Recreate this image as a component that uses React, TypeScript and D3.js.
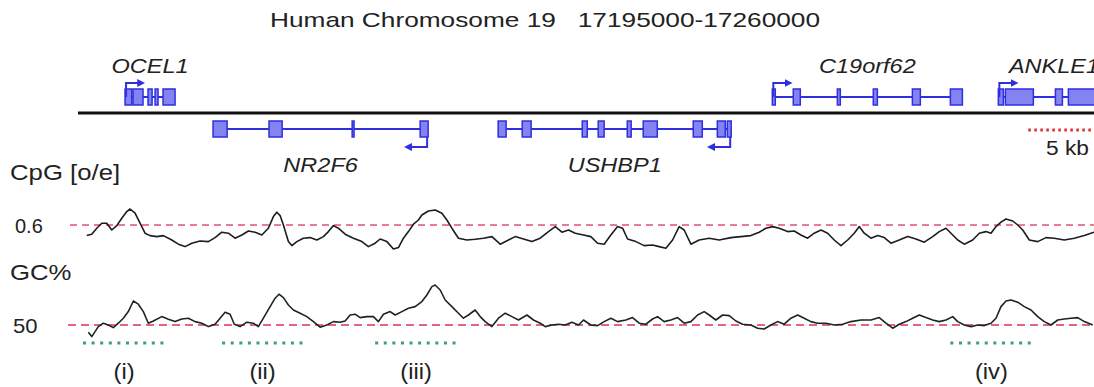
import * as d3 from 'd3';

// genomic window, positions below are kb from the window start
const chromStart = 17195000;
const chromEnd = 17260000;
const titleText = 'Human Chromosome 19   17195000-17260000';

// CpG observed/expected profile [kb, o/e]
const cpgProfile: [number, number][] = [
  [0.56, 0.547], [0.88, 0.554], [1.2, 0.584], [1.52, 0.609], [1.84, 0.609], [2.16, 0.575],
  [2.48, 0.597], [2.8, 0.634], [3.12, 0.667], [3.33, 0.68], [3.65, 0.659], [3.97, 0.609],
  [4.29, 0.559], [4.61, 0.547], [5.04, 0.542], [5.46, 0.547], [6.0, 0.525], [6.42, 0.504],
  [6.85, 0.492], [7.28, 0.509], [7.81, 0.52], [8.34, 0.517], [8.77, 0.537], [9.2, 0.564],
  [9.62, 0.559], [10.05, 0.534], [10.48, 0.55], [10.9, 0.57], [11.33, 0.564], [11.76, 0.55],
  [12.18, 0.584], [12.5, 0.642], [12.72, 0.664], [12.93, 0.647], [13.14, 0.6], [13.46, 0.517],
  [13.68, 0.497], [14.0, 0.517], [14.42, 0.534], [14.85, 0.537], [15.28, 0.525], [15.7, 0.542],
  [16.02, 0.567], [16.34, 0.597], [16.66, 0.584], [17.09, 0.554], [17.62, 0.534], [18.16, 0.517],
  [18.58, 0.492], [19.01, 0.509], [19.33, 0.53], [19.76, 0.517], [20.18, 0.48], [20.5, 0.487],
  [20.82, 0.534], [21.14, 0.567], [21.46, 0.604], [21.78, 0.625], [22.0, 0.65], [22.42, 0.67],
  [22.85, 0.675], [23.28, 0.659], [23.6, 0.625], [23.92, 0.584], [24.34, 0.534], [24.88, 0.525],
  [25.41, 0.529], [25.94, 0.534], [26.48, 0.542], [27.01, 0.504], [27.54, 0.525], [27.97, 0.542],
  [28.5, 0.53], [29.04, 0.517], [29.57, 0.534], [30.1, 0.567], [30.53, 0.592], [30.96, 0.564],
  [31.38, 0.575], [31.81, 0.559], [32.34, 0.55], [32.81, 0.542], [33.24, 0.509], [33.66, 0.504],
  [34.09, 0.55], [34.52, 0.592], [34.84, 0.584], [35.16, 0.53], [35.69, 0.517], [36.22, 0.497],
  [36.76, 0.5], [37.18, 0.492], [37.61, 0.484], [38.04, 0.525], [38.46, 0.592], [38.78, 0.575],
  [39.21, 0.504], [39.74, 0.525], [40.38, 0.534], [41.02, 0.525], [41.77, 0.537], [42.41, 0.542],
  [43.05, 0.547], [43.58, 0.564], [44.01, 0.584], [44.44, 0.592], [44.86, 0.584], [45.4, 0.567],
  [45.82, 0.57], [46.25, 0.55], [46.68, 0.534], [47.1, 0.559], [47.53, 0.575], [47.96, 0.559],
  [48.38, 0.525], [48.81, 0.497], [49.24, 0.525], [49.66, 0.559], [49.98, 0.592], [50.3, 0.559],
  [50.73, 0.534], [51.16, 0.547], [51.58, 0.537], [52.01, 0.509], [52.54, 0.525], [53.08, 0.542],
  [53.61, 0.53], [54.14, 0.514], [54.68, 0.542], [55.1, 0.567], [55.53, 0.584], [55.85, 0.559],
  [56.28, 0.525], [56.7, 0.504], [57.24, 0.525], [57.66, 0.559], [58.09, 0.567], [58.41, 0.559],
  [58.73, 0.592], [59.05, 0.614], [59.37, 0.63], [59.8, 0.62], [60.12, 0.6], [60.44, 0.575],
  [60.86, 0.525], [61.4, 0.517], [61.93, 0.537], [62.46, 0.534], [63.1, 0.525], [63.74, 0.534],
  [64.38, 0.547], [65.0, 0.564],
];

// GC content profile [kb, %]
const gcProfile: [number, number][] = [
  [0.66, 46.4], [0.88, 44.2], [1.09, 46.7], [1.3, 49.2], [1.62, 50.9], [1.94, 50.0],
  [2.26, 48.7], [2.58, 50.9], [2.9, 53.4], [3.22, 56.7], [3.54, 62.0], [3.86, 60.4],
  [4.18, 56.7], [4.5, 50.9], [4.82, 52.0], [5.36, 54.2], [5.78, 52.9], [6.21, 51.7],
  [6.64, 53.0], [7.06, 53.4], [7.49, 51.7], [7.92, 50.9], [8.34, 49.2], [8.77, 50.4],
  [9.09, 53.4], [9.41, 56.4], [9.73, 55.4], [10.0, 50.4], [10.37, 49.2], [10.8, 51.4],
  [11.22, 50.9], [11.54, 49.2], [11.86, 53.4], [12.29, 59.2], [12.61, 63.4], [12.86, 65.4],
  [13.14, 63.7], [13.46, 60.0], [13.78, 57.5], [14.21, 55.9], [14.64, 54.2], [15.06, 51.7],
  [15.49, 48.9], [15.92, 50.0], [16.34, 51.7], [16.77, 51.4], [17.09, 52.0], [17.41, 55.0],
  [17.73, 55.4], [18.05, 53.7], [18.48, 54.2], [18.9, 54.2], [19.22, 51.7], [19.54, 55.4],
  [19.97, 56.7], [20.29, 55.0], [20.72, 56.7], [21.14, 58.4], [21.57, 59.2], [22.0, 61.7],
  [22.32, 65.0], [22.64, 69.2], [22.85, 70.0], [23.17, 67.5], [23.49, 62.5], [23.92, 59.2],
  [24.34, 55.9], [24.66, 53.4], [24.98, 55.0], [25.41, 57.5], [25.73, 54.2], [26.05, 51.7],
  [26.48, 49.2], [26.9, 53.4], [27.33, 55.9], [27.76, 54.2], [28.18, 52.5], [28.72, 55.0],
  [29.14, 52.5], [29.57, 50.9], [29.89, 49.2], [30.32, 50.0], [30.74, 50.4], [31.17, 50.0],
  [31.6, 51.4], [32.02, 50.0], [32.34, 52.5], [32.81, 50.0], [33.24, 49.7], [33.66, 51.7],
  [34.09, 53.4], [34.52, 51.7], [35.05, 52.5], [35.48, 53.7], [35.9, 50.9], [36.33, 50.4],
  [36.76, 53.0], [37.08, 54.2], [37.5, 51.7], [37.93, 52.5], [38.36, 53.7], [38.78, 50.9],
  [39.21, 51.7], [39.64, 55.0], [40.06, 56.7], [40.38, 55.0], [40.81, 52.5], [41.24, 55.0],
  [41.66, 54.7], [42.09, 52.0], [42.52, 50.4], [43.05, 50.0], [43.48, 48.4], [43.9, 48.0],
  [44.33, 50.0], [44.76, 51.7], [45.18, 50.4], [45.61, 53.4], [46.04, 55.0], [46.46, 53.4],
  [46.89, 51.7], [47.32, 50.9], [47.85, 50.9], [48.38, 50.0], [48.92, 50.4], [49.45, 51.7],
  [50.09, 52.5], [50.73, 52.5], [51.26, 53.7], [51.69, 50.9], [52.12, 48.4], [52.54, 50.4],
  [52.97, 51.7], [53.4, 53.4], [53.82, 55.0], [54.25, 53.7], [54.68, 52.5], [55.1, 51.7],
  [55.53, 52.5], [55.96, 54.2], [56.28, 51.7], [56.7, 50.0], [57.13, 49.2], [57.56, 50.0],
  [57.98, 49.7], [58.41, 50.9], [58.73, 53.4], [59.05, 59.2], [59.37, 62.0], [59.69, 62.5],
  [60.12, 61.4], [60.54, 59.2], [60.97, 57.5], [61.4, 54.2], [61.82, 51.7], [62.25, 50.0],
  [62.68, 52.5], [63.1, 53.0], [63.53, 53.4], [63.96, 53.7], [64.38, 51.7], [64.92, 50.0],
];

const cpgRef = 0.6;
const gcRef = 50;

// exon coordinates [start kb, end kb]
const ocel1Exons = [[3.01, 3.44], [3.52, 4.16], [4.48, 4.74], [4.93, 5.12], [5.44, 6.21]];
const nr2f6Exons = [[8.64, 9.54], [12.22, 13.06], [17.54, 17.66], [21.89, 22.4]];
const ushbp1Exons = [[26.88, 27.39], [28.42, 28.99], [32.26, 32.58], [33.28, 33.66], [35.14, 35.39],
  [36.16, 37.06], [39.36, 39.94], [40.9, 41.41], [41.54, 41.79]];
const c19orf62Exons = [[44.42, 44.61], [45.76, 46.21], [48.58, 48.77], [50.88, 51.14], [53.38, 53.89], [55.81, 56.58]];
const ankle1Exons = [[58.88, 59.2], [59.33, 61.12], [62.53, 62.98], [63.36, 66.0]];

const geneNames = ['OCEL1', 'NR2F6', 'USHBP1', 'C19orf62', 'ANKLE1'];
const geneStrands = ['+', '-', '-', '+', '+'];
const geneExons = [ocel1Exons, nr2f6Exons, ushbp1Exons, c19orf62Exons, ankle1Exons];

// marked CpG-island-like regions
const regionLabels = ['(i)', '(ii)', '(iii)', '(iv)'];
const regionSpans = [[0.32, 5.57], [9.22, 14.4], [19.01, 24.26], [55.81, 61.06]];

const scaleBarKb = [60.8, 65.8];

const W = 1094;
const H = 387;
const FONT = '"Liberation Sans", Arial, Helvetica, sans-serif';
const BLUE = '#2f2fe0';

function SText({ x, y, children, size = 22, sx = 1.15, anchor = 'start', italic = false, fill = '#222' }: any) {
  return (
    <text
      transform={`translate(${x},${y}) scale(${sx},1)`}
      fontSize={size}
      fontFamily={FONT}
      fontStyle={italic ? 'italic' : 'normal'}
      textAnchor={anchor}
      fill={fill}
      style={{ whiteSpace: 'pre' }}
    >
      {children}
    </text>
  );
}

export default function App() {
  const kb = d3.scaleLinear().domain([0, (chromEnd - chromStart) / 1000]).range([78, 1094]);
  const yCpg = d3.scaleLinear().domain([0.5, 0.7]).range([245, 205]);
  const yGc = d3.scaleLinear().domain([50, 70]).range([325, 285]);

  const cpgLine = d3.line<[number, number]>().x(d => kb(d[0])).y(d => yCpg(d[1]));
  const gcLine = d3.line<[number, number]>().x(d => kb(d[0])).y(d => yGc(d[1]));

  const axisY = 113;

  return (
    <svg width={W} height={H} style={{ position: 'absolute', left: 0, top: 0, background: '#fff' }}>
      <defs>
        <marker id="arr" viewBox="0 0 10 10" refX="6" refY="5" markerWidth="4" markerHeight="4" orient="auto">
          <path d="M0,0L10,5L0,10z" fill={BLUE} />
        </marker>
      </defs>

      <SText x={545} y={27} anchor="middle" size={21} sx={1.25}>{titleText}</SText>

      {/* genes */}
      {geneNames.map((name, gi) => {
        const exons = geneExons[gi];
        const plus = geneStrands[gi] === '+';
        const cy = plus ? 97 : 129;
        const h = 16;
        const s = exons[0][0];
        const e = exons[exons.length - 1][1];
        const mid = (kb(s) + Math.min(kb(e), 1125)) / 2;
        const arrow = plus
          ? `M${kb(s) + 1},${cy} V83 H${kb(s) + 17}`
          : `M${kb(e) - 1},${cy + h / 2} V147 H${kb(e) - 21}`;
        return (
          <g key={name}>
            <line x1={kb(s)} x2={kb(e)} y1={cy} y2={cy} stroke={BLUE} strokeWidth={2} />
            {exons.map((ex, i) => (
              <rect key={i} x={kb(ex[0])} y={cy - h / 2} width={Math.max(kb(ex[1]) - kb(ex[0]), 1.5)} height={h}
                fill="#8383f2" stroke={BLUE} strokeWidth={1.5} />
            ))}
            <path d={arrow} fill="none" stroke={BLUE} strokeWidth={2} markerEnd="url(#arr)" />
            <SText x={mid} y={plus ? 73 : 172} anchor="middle" size={21} sx={1.12} italic>{name}</SText>
          </g>
        );
      })}

      <line x1={78} x2={W} y1={axisY} y2={axisY} stroke="#111" strokeWidth={3} />

      {/* scale bar */}
      <line x1={kb(scaleBarKb[0])} x2={kb(scaleBarKb[1])} y1={130} y2={130} stroke="#e02828" strokeWidth={3} strokeDasharray="2.5 3.5" />
      <SText x={(kb(scaleBarKb[0]) + kb(scaleBarKb[1])) / 2} y={155} anchor="middle" size={21} sx={1.08}>5 kb</SText>

      {/* CpG track */}
      <SText x={10} y={180} size={22} sx={1.17}>CpG [o/e]</SText>
      <SText x={15} y={233} size={20} sx={1.0}>{String(cpgRef)}</SText>
      <line x1={70} x2={W} y1={yCpg(cpgRef)} y2={yCpg(cpgRef)} stroke="#e4506c" strokeWidth={1.6} strokeDasharray="7 5" />
      <path d={cpgLine(cpgProfile) || ''} fill="none" stroke="#1d1d1d" strokeWidth={1.6} strokeLinejoin="round" />

      {/* GC track */}
      <SText x={10} y={280} size={22} sx={1.17}>GC%</SText>
      <SText x={13} y={333} size={21} sx={1.05}>{String(gcRef)}</SText>
      <line x1={68} x2={W} y1={yGc(gcRef)} y2={yGc(gcRef)} stroke="#e6647e" strokeWidth={2} strokeDasharray="8 5" />
      <path d={gcLine(gcProfile) || ''} fill="none" stroke="#1a261e" strokeWidth={1.6} strokeLinejoin="round" />

      {/* regions */}
      {regionLabels.map((lab, i) => {
        const [a, b] = regionSpans[i];
        return (
          <g key={lab}>
            <line x1={kb(a)} x2={kb(b)} y1={343} y2={343} stroke="#3f9e7e" strokeWidth={3} strokeDasharray="3 5.6" />
            <SText x={(kb(a) + kb(b)) / 2} y={379} anchor="middle" size={22} sx={1.08}>{lab}</SText>
          </g>
        );
      })}
    </svg>
  );
}
